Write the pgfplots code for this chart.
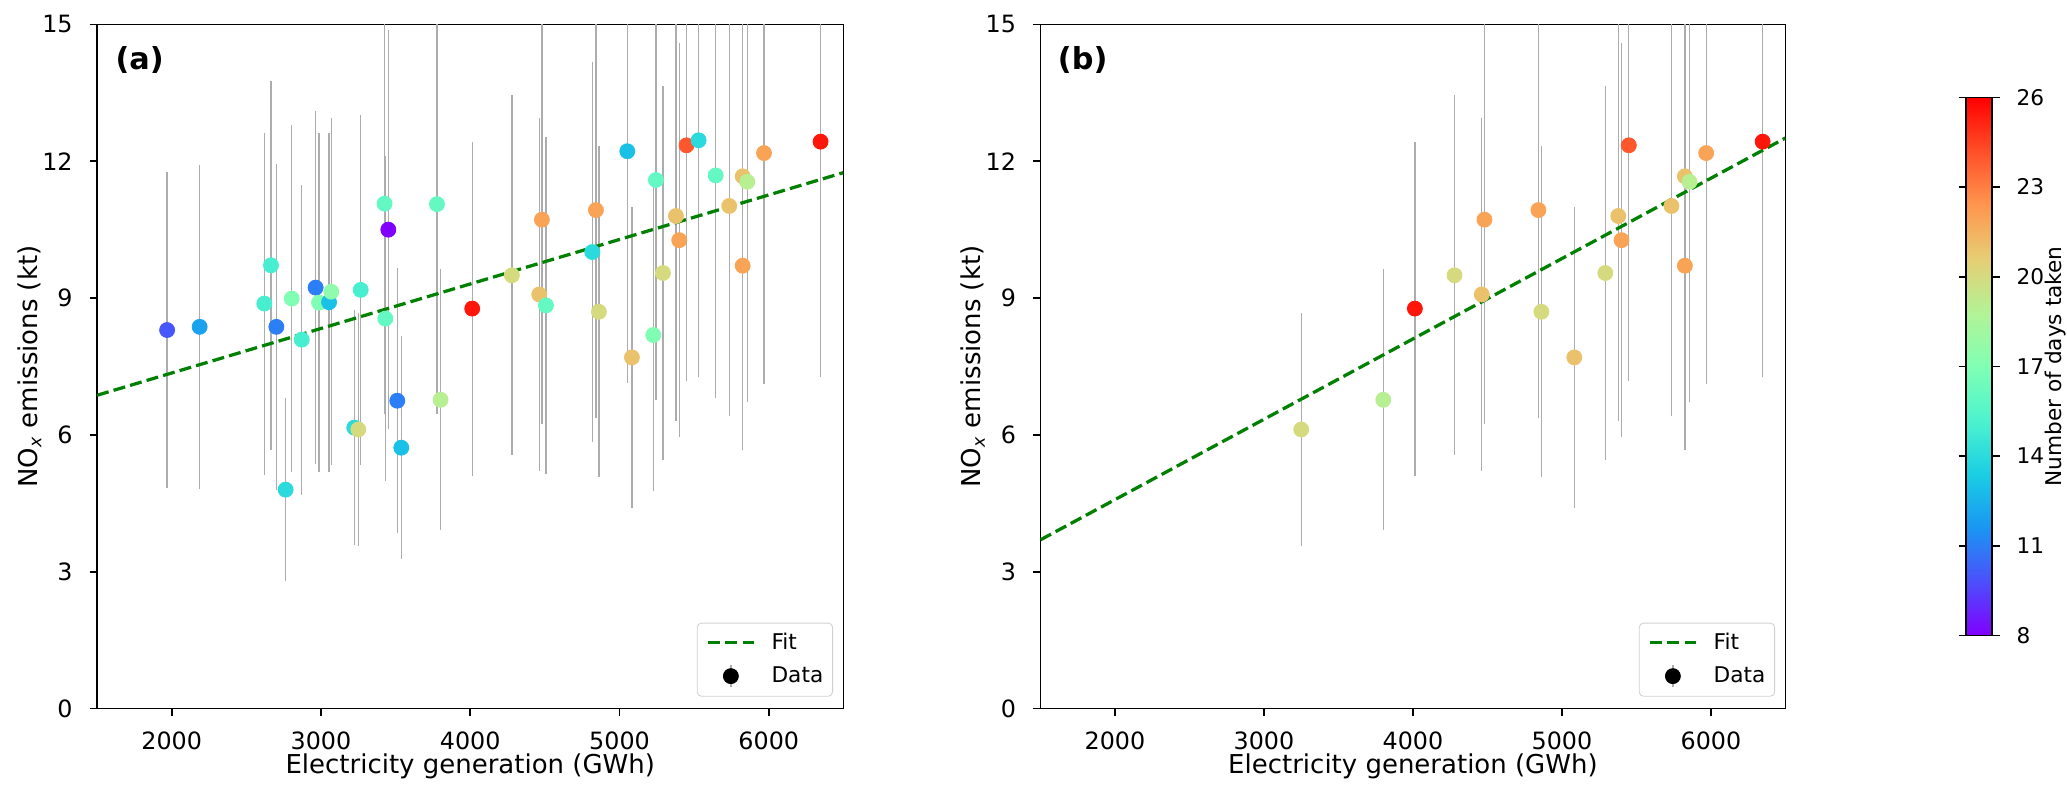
\documentclass[border=0pt]{standalone}
\usepackage{fontspec}
\setmainfont{DejaVu Sans}
\usepackage{pgfplots}
\pgfplotsset{compat=1.18}
\usepackage{pgfplotstable}

\definecolor{fitgreen}{rgb}{0,0.5,0}

\pgfplotstableread{
x y e d
1969 8.30 3.47 10
2187 8.37 3.55 12
2620 8.88 3.75 15
2665 9.72 4.04 15
2701 8.37 3.58 11
2763 4.80 2.00 14
2804 8.99 3.80 17
2871 8.09 3.40 15
2964 9.23 3.87 11
2987 8.90 3.71 17
3054 8.91 3.72 13
3069 9.14 3.81 17.5
3223 6.16 2.58 14
3250 6.12 2.56 20
3266 9.18 3.83 15
3426 11.07 4.60 16
3431 8.55 3.56 16
3451 10.50 4.37 8
3511 6.75 2.90 11
3538 5.72 2.45 13
3777 11.06 4.60 16
3801 6.77 2.86 19
4013 8.77 3.66 25.5
4279 9.50 3.95 20
4462 9.08 3.87 21
4480 10.72 4.47 22
4507 8.84 3.69 16
4817 10.01 4.17 14
4842 10.93 4.56 22
4862 8.70 3.63 20
5052 12.22 5.09 13
5083 7.70 3.30 21
5226 8.19 3.42 17
5244 11.59 4.83 16
5291 9.55 4.10 20
5378 10.80 4.50 21
5400 10.27 4.32 22
5449 12.35 5.16 24
5530 12.46 5.19 14
5644 11.69 4.88 16
5735 11.02 4.60 21
5825 9.71 4.05 22
5825 11.67 4.86 21
5856 11.55 4.82 19
5968 12.18 5.07 22
6347 12.43 5.17 25.5
}\dataA

\pgfplotstableread{
x y e d
3250 6.12 2.56 20
3801 6.77 2.86 19
4013 8.77 3.66 25.5
4279 9.50 3.95 20
4462 9.08 3.87 21
4480 10.72 4.47 22
4842 10.93 4.56 22
4862 8.70 3.63 20
5083 7.70 3.30 21
5291 9.55 4.10 20
5378 10.80 4.50 21
5400 10.27 4.32 22
5449 12.35 5.16 24
5735 11.02 4.60 21
5825 9.71 4.05 22
5825 11.67 4.86 21
5856 11.55 4.82 19
5968 12.18 5.07 22
6347 12.43 5.17 25.5
}\dataB

\pgfplotsset{
  colormap={mplrainbow}{rgb255=(128,0,255) rgb255=(77,79,252) rgb255=(26,150,243) rgb255=(26,206,227) rgb255=(77,243,206) rgb255=(128,255,180) rgb255=(179,243,150) rgb255=(230,206,116) rgb255=(255,150,79) rgb255=(255,79,40) rgb255=(255,0,0)},
  panel/.style={
    scale only axis, height=316pt,
    xmin=1500, xmax=6500, ymin=0, ymax=15,
    xtick={2000,3000,4000,5000,6000}, ytick={0,3,6,9,12,15},
    tick align=outside, major tick length=3.5pt, tick pos=left,
    tick style={black, line width=0.8pt},
    axis line style={line width=0.8pt},
    /pgf/number format/1000 sep={},
    /pgf/number format/assume math mode=true,
    ticklabel style={font=\fontsize{11}{13}\selectfont},
    xticklabel style={anchor=north, inner sep=0pt, yshift=-7.1pt},
    yticklabel style={anchor=east, inner sep=0pt, xshift=-7.6pt},
    xlabel={Electricity generation (GWh)},
    ylabel={NO\textsubscript{\itshape x} emissions (kt)},
    every axis x label/.style={at={(axis description cs:0.5,-0.0851)}, anchor=center, inner sep=0pt, font=\fontsize{12}{14}\selectfont},
    every axis y label/.style={at={(axis description cs:-0.0905,0.5)}, rotate=90, anchor=center, inner sep=0pt, font=\fontsize{12}{14}\selectfont},
    colormap name=mplrainbow,
    point meta min=8, point meta max=26,
    legend style={at={(1,0)}, anchor=south east, xshift=-4.8pt, yshift=5.5pt,
      draw=black!18, rounded corners=2pt, fill=white,
      font=\fontsize{10}{12}\selectfont, inner xsep=4.3pt, inner ysep=4pt,
      row sep=5.2pt, nodes={inner sep=0pt}, cells={anchor=west}},
    legend cell align=left,
    reverse legend,
  },
  ebars/.style={forget plot, draw=none, mark=none,
    error bars/.cd, y dir=both, y explicit, error mark=none,
    error bar style={draw=gray!65, line width=0.6pt, solid}},
  pts/.style={scatter, only marks, mark=*, mark size=3.45pt, scatter src=explicit,
    scatter/use mapped color={draw=mapped color, fill=mapped color},
    legend image code/.code={\path[draw=none, fill=none] (0pt,-5pt) rectangle (29.3pt,5pt);
      \draw[gray!65, line width=0.6pt, solid] (10.5pt,-5pt) -- (10.5pt,5pt);
      \fill[black] (10.5pt,0pt) circle (3.45pt);}},
  fit/.style={fitgreen, line width=1.5pt, dash pattern=on 5.55pt off 2.4pt,
    legend image code/.code={\path[draw=none, fill=none] (0pt,-5pt) rectangle (29.3pt,5pt);
      \draw[##1] (0pt,0pt) -- (21pt,0pt);}},
}

\begin{document}
\begin{tikzpicture}
\useasboundingbox (0,0) rectangle (954.7pt,369pt);

\begin{axis}[panel, width=344.7pt, at={(44.85pt,41.71pt)}, anchor=south west]
\addplot[ebars] table[x=x, y=y, y error=e] {\dataA};
\addplot[pts] table[x=x, y=y, meta=d] {\dataA};
\addlegendentry{Data}
\addplot[fit] coordinates {(1500,6.87) (6500,11.75)};
\addlegendentry{Fit}
\node[anchor=north west, inner sep=0pt, font=\bfseries\fontsize{14}{16}\selectfont] at (rel axis cs:0,1) [xshift=8.3pt, yshift=-9.9pt] {(a)};
\end{axis}

\begin{axis}[panel, width=344.1pt, at={(480.55pt,41.71pt)}, anchor=south west,
  colorbar,
  colorbar style={
    at={(parent axis.south east)}, anchor=south west,
    xshift=75.0pt, yshift=33.8pt,
    scale only axis, width=12pt, height=248.5pt,
    ytick={8,11,14,17,20,23,26},
    yticklabels={8,11,14,17,20,23,26},
    tick align=outside, major tick length=3.5pt,
    tick style={black, line width=0.8pt},
    axis line style={line width=0.8pt},
    yticklabel pos=right,
    yticklabel style={anchor=west, inner sep=0pt, xshift=7.5pt, font=\fontsize{10}{12}\selectfont},
    ylabel={Number of days taken},
    every axis y label/.style={at={(axis description cs:3.425,0.5)}, rotate=90, anchor=center, inner sep=0pt, font=\fontsize{10}{12}\selectfont},
  }]
\addplot[ebars] table[x=x, y=y, y error=e] {\dataB};
\addplot[pts] table[x=x, y=y, meta=d] {\dataB};
\addlegendentry{Data}
\addplot[fit] coordinates {(1500,3.70) (6500,12.51)};
\addlegendentry{Fit}
\node[anchor=north west, inner sep=0pt, font=\bfseries\fontsize{14}{16}\selectfont] at (rel axis cs:0,1) [xshift=7.9pt, yshift=-10.2pt] {(b)};
\end{axis}
\end{tikzpicture}
\end{document}
